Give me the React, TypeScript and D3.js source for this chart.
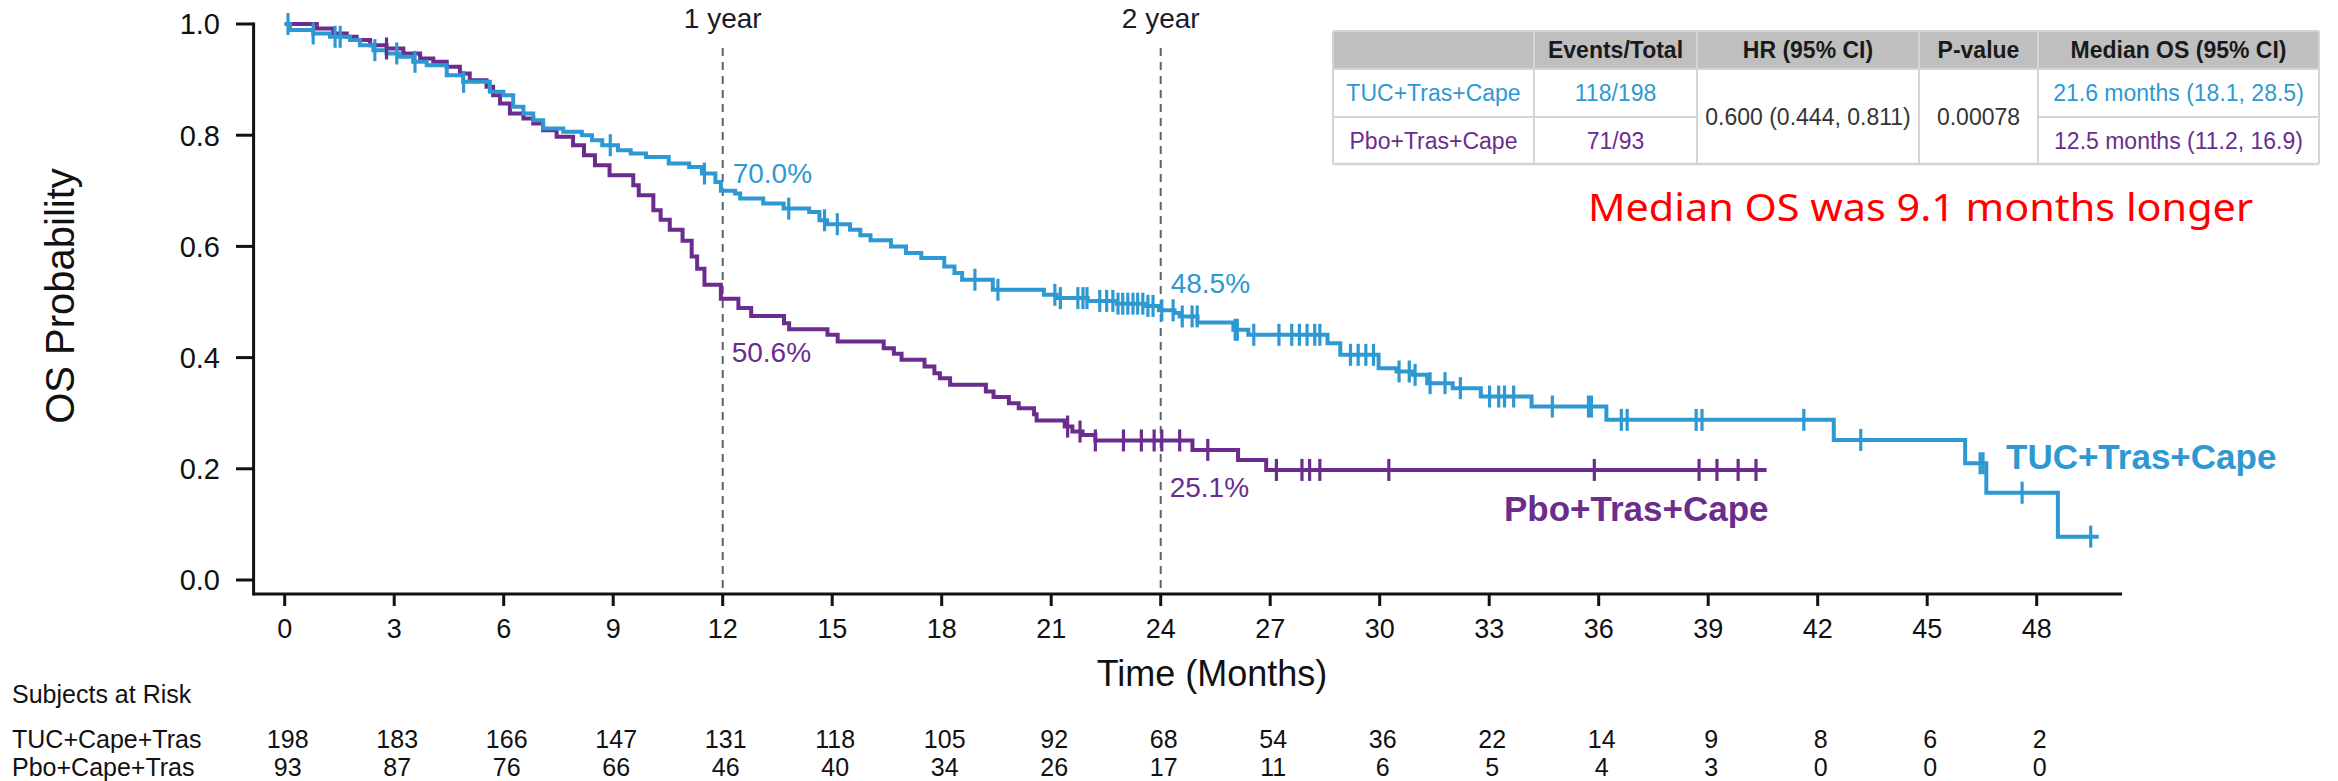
import React from 'react';
import * as d3 from 'd3';

// Kaplan–Meier overall survival, TUC vs placebo arm
const monthTicks = [0, 3, 6, 9, 12, 15, 18, 21, 24, 27, 30, 33, 36, 39, 42, 45, 48];
const probTicks = [0, 0.2, 0.4, 0.6, 0.8, 1.0];

// [month, survival] — each entry is the level the curve drops to at that month
const tucSteps: [number, number][] = [
  [0, 1.0], [0.145, 0.989], [0.78, 0.983], [1.24, 0.977], [1.79, 0.971], [2.06, 0.962],
  [2.43, 0.953], [2.79, 0.947], [3.16, 0.941], [3.52, 0.932], [3.89, 0.926], [4.44, 0.908],
  [4.89, 0.896], [5.62, 0.878], [5.99, 0.872], [6.26, 0.851], [6.54, 0.839], [6.81, 0.827],
  [7.08, 0.812], [7.63, 0.806], [8.14, 0.8], [8.42, 0.791], [8.7, 0.782], [9.13, 0.773],
  [9.48, 0.767], [9.9, 0.761], [10.52, 0.749], [11.08, 0.743], [11.43, 0.731], [11.8, 0.716],
  [11.95, 0.7], [12.34, 0.695], [12.48, 0.686], [13.11, 0.677], [13.67, 0.668], [14.37, 0.662],
  [14.65, 0.647], [14.86, 0.64], [15.49, 0.63], [15.77, 0.62], [16.05, 0.611], [16.61, 0.6],
  [17.02, 0.588], [17.44, 0.579], [18.07, 0.564], [18.35, 0.552], [18.56, 0.54], [19.4, 0.522],
  [20.8, 0.513], [21.15, 0.507], [22.0, 0.502], [22.8, 0.497], [23.6, 0.493], [23.95, 0.485],
  [24.38, 0.48], [24.52, 0.474], [25.01, 0.463], [25.99, 0.45], [26.4, 0.441], [28.57, 0.426],
  [28.92, 0.405], [29.97, 0.381], [30.46, 0.375], [30.9, 0.369], [31.3, 0.354], [32.0, 0.345],
  [32.77, 0.33], [34.16, 0.312], [36.21, 0.288], [42.44, 0.252], [46.04, 0.21], [46.62, 0.157],
  [48.58, 0.078],
];
const tucEnd = 49.7;
const tucCensor = [
  0.09, 0.78, 1.38, 1.52, 2.47, 3.07, 3.57, 4.9, 8.92, 11.5, 13.81, 14.79, 15.14, 18.91, 19.54,
  21.1, 21.25, 21.73, 21.87, 21.98, 22.33, 22.52, 22.69, 22.83, 22.96, 23.1, 23.24, 23.37, 23.51,
  23.65, 23.79, 24.03, 24.34, 24.59, 24.86, 25.0, 26.04, 26.1, 26.55, 27.24, 27.59, 27.8, 28.01,
  28.22, 28.36, 29.2, 29.41, 29.62, 29.83, 30.53, 30.81, 30.97, 31.38, 31.79, 32.21, 33.01, 33.26,
  33.42, 33.67, 34.73, 35.72, 35.8, 36.62, 36.78, 38.67, 38.83, 41.62, 43.18, 46.45, 46.53, 47.6,
  49.48,
];

const pboSteps: [number, number][] = [
  [0, 1.0], [0.88, 0.992], [1.33, 0.983], [1.7, 0.977], [1.97, 0.971], [2.34, 0.962], [2.79, 0.956],
  [3.25, 0.947], [3.71, 0.938], [4.07, 0.932], [4.44, 0.923], [4.8, 0.911], [5.07, 0.899],
  [5.53, 0.887], [5.71, 0.872], [5.9, 0.857], [6.17, 0.839], [6.54, 0.83], [6.81, 0.821],
  [7.08, 0.809], [7.45, 0.797], [7.9, 0.782], [8.2, 0.764], [8.5, 0.746], [8.9, 0.728],
  [9.55, 0.71], [9.7, 0.692], [10.1, 0.665], [10.3, 0.648], [10.55, 0.63], [10.9, 0.61],
  [11.15, 0.582], [11.3, 0.56], [11.5, 0.531], [11.95, 0.506], [12.43, 0.489], [12.78, 0.475],
  [13.68, 0.462], [13.82, 0.451], [14.87, 0.441], [15.15, 0.429], [16.41, 0.417], [16.69, 0.407],
  [16.9, 0.396], [17.53, 0.384], [17.8, 0.372], [17.95, 0.363], [18.23, 0.351], [19.21, 0.339],
  [19.42, 0.329], [19.84, 0.318], [20.11, 0.309], [20.53, 0.298], [20.6, 0.287], [21.37, 0.276],
  [21.58, 0.267], [21.86, 0.261], [22.21, 0.251], [24.87, 0.234], [26.12, 0.216], [26.89, 0.198],
];
const pboEnd = 40.6;
const pboCensor = [
  2.79, 21.45, 21.79, 22.21, 22.98, 23.47, 23.82, 24.03, 24.52, 25.29, 27.17, 27.87, 28.08, 28.36,
  30.25, 35.88, 38.75, 39.24, 39.82, 40.31,
];

// landmark annotations
const landmarkMonths = [12, 24];
const landmarkNames = ['1 year', '2 year'];
const tucLandmark = [0.7, 0.485];
const pboLandmark = [0.506, 0.251];

// numbers at risk
const riskTuc = [198, 183, 166, 147, 131, 118, 105, 92, 68, 54, 36, 22, 14, 9, 8, 6, 2];
const riskPbo = [93, 87, 76, 66, 46, 40, 34, 26, 17, 11, 6, 5, 4, 3, 0, 0, 0];

// summary table
const tableHeader = ['', 'Events/Total', 'HR (95% CI)', 'P-value', 'Median OS (95% CI)'];
const armNames = ['TUC+Tras+Cape', 'Pbo+Tras+Cape'];
const armEvents = ['118/198', '71/93'];
const hazardRatio = '0.600 (0.444, 0.811)';
const pValue = '0.00078';
const armMedians = ['21.6 months (18.1, 28.5)', '12.5 months (11.2, 16.9)'];

const BLUE = '#2e98d2';
const PURPLE = '#6a2d8d';
const ARIAL = '"Liberation Sans", Arial, sans-serif';

const survAt = (steps: [number, number][], t: number) => {
  let s = steps[0][1];
  for (const [tt, v] of steps) {
    if (tt <= t) s = v;
    else break;
  }
  return s;
};

export default function App() {
  const W = 2338;
  const H = 781;
  const x = d3.scaleLinear().domain([0, 48]).range([284.7, 2036.7]);
  const y = d3.scaleLinear().domain([0, 1]).range([580, 24]);
  const axisX = 253.6;
  const axisY = 594;

  const line = d3
    .line<[number, number]>()
    .x((d) => x(d[0]))
    .y((d) => y(d[1]))
    .curve(d3.curveStepAfter);

  const tucPath = line([...tucSteps, [tucEnd, tucSteps[tucSteps.length - 1][1]]]) || '';
  const pboPath = line([...pboSteps, [pboEnd, pboSteps[pboSteps.length - 1][1]]]) || '';

  const colX = [1333, 1534, 1697, 1919, 2038, 2319];
  const rowY = [31, 69, 117, 164];
  const gridColor = '#d4d4d4';
  const cx = (i: number) => (colX[i] + colX[i + 1]) / 2;
  const cy = (r: number) => (rowY[r] + rowY[r + 1]) / 2;

  return (
    <svg
      width={W}
      height={H}
      viewBox={`0 0 ${W} ${H}`}
      style={{ position: 'absolute', left: 0, top: 0, background: '#fff' }}
    >
      <rect x={0} y={0} width={W} height={H} fill="#fff" />

      {/* landmark reference lines */}
      {landmarkMonths.map((m, i) => (
        <g key={m}>
          <line
            x1={x(m)}
            x2={x(m)}
            y1={48}
            y2={axisY}
            stroke="#5b6373"
            strokeWidth={2}
            strokeDasharray="8,6"
          />
          <text x={x(m)} y={28} textAnchor="middle" fontFamily={ARIAL} fontSize={28} fill="#1a1a2a">
            {landmarkNames[i]}
          </text>
        </g>
      ))}

      {/* axes */}
      <line x1={axisX} x2={axisX} y1={y(1) - 1.5} y2={axisY + 1.5} stroke="#111" strokeWidth={3} />
      <line x1={axisX} x2={2122} y1={axisY} y2={axisY} stroke="#111" strokeWidth={3} />
      {probTicks.map((p) => (
        <g key={p}>
          <line x1={236} x2={axisX} y1={y(p)} y2={y(p)} stroke="#111" strokeWidth={3} />
          <text
            x={220}
            y={y(p)}
            dy="0.36em"
            textAnchor="end"
            fontFamily={ARIAL}
            fontSize={29}
            fill="#111"
          >
            {p.toFixed(1)}
          </text>
        </g>
      ))}
      {monthTicks.map((m) => (
        <g key={m}>
          <line x1={x(m)} x2={x(m)} y1={axisY} y2={axisY + 12} stroke="#111" strokeWidth={3} />
          <text x={x(m)} y={638} textAnchor="middle" fontFamily={ARIAL} fontSize={27} fill="#111">
            {m}
          </text>
        </g>
      ))}
      <text x={1212} y={686} textAnchor="middle" fontFamily={ARIAL} fontSize={36} fill="#111">
        Time (Months)
      </text>
      <text
        transform="translate(74,296) rotate(-90)"
        textAnchor="middle"
        fontFamily={ARIAL}
        fontSize={40}
        fill="#111"
      >
        OS Probability
      </text>

      {/* survival curves */}
      <path d={pboPath} fill="none" stroke={PURPLE} strokeWidth={4} />
      <path d={tucPath} fill="none" stroke={BLUE} strokeWidth={4} />
      {pboCensor.map((t, i) => {
        const yy = y(survAt(pboSteps, t));
        return (
          <line key={`p${i}`} x1={x(t)} x2={x(t)} y1={yy - 11} y2={yy + 11} stroke={PURPLE} strokeWidth={3.2} />
        );
      })}
      {tucCensor.map((t, i) => {
        const yy = y(survAt(tucSteps, t));
        return (
          <line key={`t${i}`} x1={x(t)} x2={x(t)} y1={yy - 11} y2={yy + 11} stroke={BLUE} strokeWidth={3.2} />
        );
      })}

      {/* landmark values */}
      {landmarkMonths.map((m, i) => (
        <g key={`lv${m}`}>
          <text
            x={x(m) + 10}
            y={y(tucLandmark[i]) + (i === 0 ? -8 : -17)}
            fontFamily={ARIAL}
            fontSize={28}
            fill={BLUE}
          >
            {(tucLandmark[i] * 100).toFixed(1)}%
          </text>
          <text
            x={x(m) + 9}
            y={y(pboLandmark[i]) + (i === 0 ? 63 : 57)}
            fontFamily={ARIAL}
            fontSize={28}
            fill={PURPLE}
          >
            {(pboLandmark[i] * 100).toFixed(1)}%
          </text>
        </g>
      ))}

      {/* arm labels */}
      <text x={2006} y={469} fontFamily={ARIAL} fontSize={35} fontWeight="bold" fill={BLUE}>
        TUC+Tras+Cape
      </text>
      <text x={1504} y={521} fontFamily={ARIAL} fontSize={35} fontWeight="bold" fill={PURPLE}>
        Pbo+Tras+Cape
      </text>

      {/* summary table */}
      <g fontFamily={ARIAL} fontSize={23}>
        <rect x={colX[0]} y={rowY[0]} width={colX[5] - colX[0]} height={rowY[1] - rowY[0]} fill="#bfbfbf" />
        <line x1={colX[0]} x2={colX[5]} y1={rowY[0]} y2={rowY[0]} stroke={gridColor} strokeWidth={2} />
        <line x1={colX[0]} x2={colX[5]} y1={rowY[1]} y2={rowY[1]} stroke={gridColor} strokeWidth={2} />
        <line x1={colX[0]} x2={colX[2]} y1={rowY[2]} y2={rowY[2]} stroke={gridColor} strokeWidth={2} />
        <line x1={colX[4]} x2={colX[5]} y1={rowY[2]} y2={rowY[2]} stroke={gridColor} strokeWidth={2} />
        <line x1={colX[0]} x2={colX[5]} y1={rowY[3]} y2={rowY[3]} stroke={gridColor} strokeWidth={2.5} />
        {colX.map((cxp, i) => (
          <line key={i} x1={cxp} x2={cxp} y1={rowY[0]} y2={rowY[3]} stroke={gridColor} strokeWidth={2} />
        ))}
        {tableHeader.map((h, i) => (
          <text key={h + i} x={cx(i)} y={cy(0)} dy="0.36em" textAnchor="middle" fontWeight="bold" fill="#1a1a1a">
            {h}
          </text>
        ))}
        {armNames.map((n, r) => {
          const c = r === 0 ? BLUE : PURPLE;
          return (
            <g key={n} fill={c}>
              <text x={cx(0)} y={cy(r + 1)} dy="0.36em" textAnchor="middle">
                {n}
              </text>
              <text x={cx(1)} y={cy(r + 1)} dy="0.36em" textAnchor="middle">
                {armEvents[r]}
              </text>
              <text x={cx(4)} y={cy(r + 1)} dy="0.36em" textAnchor="middle">
                {armMedians[r]}
              </text>
            </g>
          );
        })}
        <text x={cx(2)} y={(rowY[1] + rowY[3]) / 2} dy="0.36em" textAnchor="middle" fill="#333">
          {hazardRatio}
        </text>
        <text x={cx(3)} y={(rowY[1] + rowY[3]) / 2} dy="0.36em" textAnchor="middle" fill="#333">
          {pValue}
        </text>
      </g>

      <text
        x={1588}
        y={221}
        fontFamily='"Noto Sans", "Open Sans", sans-serif'
        fontSize={39}
        fill="#ff0000"
        textLength={665}
        lengthAdjust="spacingAndGlyphs"
      >
        Median OS was 9.1 months longer
      </text>

      {/* numbers at risk */}
      <g fontFamily={ARIAL} fontSize={25} fill="#111">
        <text x={12} y={703}>Subjects at Risk</text>
        <text x={12} y={748}>TUC+Cape+Tras</text>
        <text x={12} y={776}>Pbo+Cape+Tras</text>
        {monthTicks.map((m, i) => (
          <g key={`r${m}`}>
            <text x={x(m) + 3} y={748} textAnchor="middle">
              {riskTuc[i]}
            </text>
            <text x={x(m) + 3} y={776} textAnchor="middle">
              {riskPbo[i]}
            </text>
          </g>
        ))}
      </g>
    </svg>
  );
}
